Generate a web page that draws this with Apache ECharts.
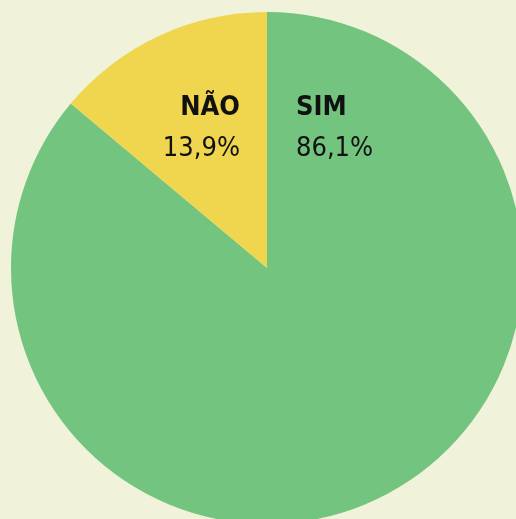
<!DOCTYPE html>
<html>
<head>
<meta charset="utf-8">
<script src="https://cdn.jsdelivr.net/npm/echarts@6/dist/echarts.min.js"></script>
<style>
html, body { margin: 0; padding: 0; background: #f0f2da; }
#main { width: 516px; height: 519px; }
</style>
</head>
<body>
<div id="main"></div>
<script>
// respostas e percentagens
var categories = ['SIM', 'NÃO'];
var values = [86.1, 13.9];
var colors = ['#72c47f', '#f0d54e'];

var myChart = echarts.init(document.getElementById('main'));

var pieData = categories.map(function (c, i) {
	return { name: c, value: values[i], itemStyle: { color: colors[i] } };
});

var fam = '"DejaVu Sans Condensed", "DejaVu Sans", sans-serif';

option = {
	backgroundColor: '#f0f2da',
	animation: false,
	series: [
		{
			type: 'pie',
			center: [267, 268],
			radius: [0, 256],
			startAngle: 90,
			clockwise: true,
			silent: true,
			data: pieData,
			label: {
				show: true,
				position: 'inside',
				fontFamily: fam,
				formatter: function (p) {
					return '{n|' + p.name + '}\n{v|' + String(values[p.dataIndex]).replace('.', ',') + '%}';
				},
				rich: {
					n: { fontFamily: fam, fontWeight: 'bold', fontSize: 27, color: '#111', lineHeight: 42 },
					v: { fontFamily: fam, fontSize: 27, color: '#111', lineHeight: 40 }
				}
			},
			labelLayout: function (params) {
				// SIM à direita da linha, NÃO à esquerda
				if (params.dataIndex === 0) {
					return { x: 296, y: 128, align: 'left', verticalAlign: 'middle' };
				}
				return { x: 240, y: 128, align: 'right', verticalAlign: 'middle' };
			},
			labelLine: { show: false }
		}
	]
};
myChart.setOption(option);
</script>
</body>
</html>
